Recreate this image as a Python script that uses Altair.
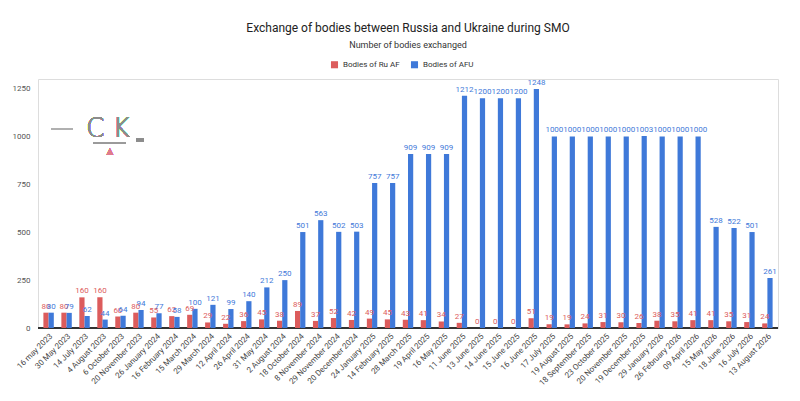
import pandas as pd
import altair as alt

# dates of exchanges (x axis categories)
dates = [
    "16 may 2023", "30 May 2023", "14 July 2023", "4 August 2023", "6 October 2023",
    "20 November 2023", "26 January 2024", "16 February 2024", "15 March 2024",
    "29 March 2024", "12 April 2024", "26 April 2024", "31 May 2024", "2 August 2024",
    "18 October 2024", "8 November 2024", "29 November 2024", "20 December 2024",
    "24 January 2025", "14 February 2025", "28 March 2025", "19 April 2025",
    "16 May 2025", "11 June 2025", "13 June 2025", "14 June 2025", "15 June 2025",
    "16 June 2025", "17 July 2025", "19 August 2025", "18 September 2025",
    "23 October 2025", "20 November 2025", "19 December 2025", "29 January 2026",
    "26 February 2026", "09 April 2026", "15 May 2026", "18 June 2026",
    "16 July 2026", "13 August 2026",
]

ru_bodies = [80, 80, 160, 160, 60, 80, 55, 62, 69, 29, 22, 36, 45, 38, 89, 37, 52, 42,
             49, 45, 43, 41, 34, 27, 0, 0, 0, 51, 19, 19, 24, 31, 30, 26, 38, 35, 41,
             41, 35, 31, 24]
afu_bodies = [80, 79, 62, 44, 64, 94, 77, 58, 100, 121, 99, 140, 212, 250, 501, 563,
              502, 503, 757, 757, 909, 909, 909, 1212, 1200, 1200, 1200, 1248, 1000,
              1000, 1000, 1000, 1000, 1003, 1000, 1000, 1000, 528, 522, 501, 261]

series = ["Bodies of Ru AF", "Bodies of AFU"]
colors = ["#dc5c5c", "#3f79d9"]
y_ticks = [0, 250, 500, 750, 1000, 1250]

rows = []
for d, r, a in zip(dates, ru_bodies, afu_bodies):
    rows.append({"date": d, "series": series[0], "value": r})
    rows.append({"date": d, "series": series[1], "value": a})
df = pd.DataFrame(rows)

FONT = "Roboto"

base = alt.Chart(df).encode(
    x=alt.X("date:N", sort=dates,
            scale=alt.Scale(paddingInner=0.42, paddingOuter=0.3),
            axis=alt.Axis(title=None, labelAngle=-45, labelFontSize=8,
                          labelColor="#444", ticks=False, domain=False,
                          labelPadding=4)),
    xOffset=alt.XOffset("series:N", sort=series),
    y=alt.Y("value:Q", scale=alt.Scale(domain=[0, 1250]),
            axis=alt.Axis(title=None, values=y_ticks, format="d", labelFontSize=8,
                          labelColor="#555", ticks=False, domain=False,
                          gridColor="#c8c8c8", labelPadding=8)),
    color=alt.Color("series:N", sort=series,
                    scale=alt.Scale(domain=series, range=colors),
                    legend=alt.Legend(title=None, orient="none", direction="horizontal",
                                      legendX=292, legendY=-19,
                                      symbolType="square", symbolSize=50,
                                      labelFontSize=8, labelColor="#333",
                                      columnPadding=10)),
)

bars = base.mark_bar()
labels = base.mark_text(dy=-6, fontSize=8, font=FONT).encode(text="value:Q")

baseline = alt.Chart(df).mark_rule(color="#333", strokeWidth=1).encode(y=alt.datum(0))

# watermark
wm_text = alt.Chart(df).mark_text(
    text="C K", fontSize=26, font="DejaVu Sans", fontWeight=200, color="#8c8c8c"
).encode(x=alt.value(70), y=alt.value(50))
wm_dash = alt.Chart(df).mark_rule(color="#b0b0b0", strokeWidth=2).encode(
    x=alt.value(13), x2=alt.value(35), y=alt.value(50))
wm_under = alt.Chart(df).mark_rule(color="#9a9a9a", strokeWidth=1).encode(
    x=alt.value(55), x2=alt.value(88), y=alt.value(64))
wm_right = alt.Chart(df).mark_rule(color="#8c8c8c", strokeWidth=2.5).encode(
    x=alt.value(98), x2=alt.value(106), y=alt.value(61))
wm_tri = alt.Chart(df).mark_text(
    text="▲", fontSize=11, color="#e07c8c"
).encode(x=alt.value(72), y=alt.value(73))

chart = alt.layer(baseline, bars, labels, wm_dash, wm_text, wm_under, wm_right, wm_tri).properties(
    width=740,
    height=249,
    title=alt.TitleParams(
        "Exchange of bodies between Russia and Ukraine during SMO",
        subtitle="Number of bodies exchanged",
        anchor="middle", fontSize=12, fontWeight="normal", color="#222",
        subtitleFontSize=9, subtitleColor="#333", subtitlePadding=6,
        offset=9, font=FONT, subtitleFont=FONT,
    ),
    padding={"top": 14, "left": 4, "right": 8, "bottom": 4},
).configure_view(stroke=None).configure(font=FONT)

chart.save("out.html", embed_options={"renderer": "svg", "actions": False})
